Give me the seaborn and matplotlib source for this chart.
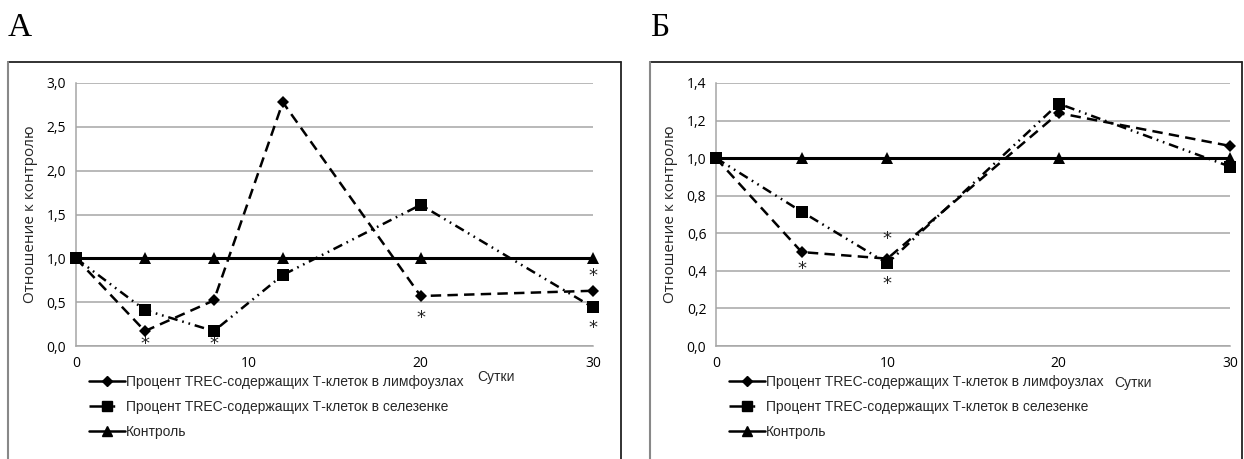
import numpy as np
import pandas as pd
import matplotlib
matplotlib.use("Agg")
import matplotlib.pyplot as plt
import seaborn as sns
from matplotlib.lines import Line2D

# ---------------- data ----------------
days_a = [0, 4, 8, 12, 20, 30]
lymph_a = [1.0, 0.17, 0.52, 2.78, 0.57, 0.63]
spleen_a = [1.0, 0.41, 0.17, 0.81, 1.61, 0.44]
control_a = [1.0, 1.0, 1.0, 1.0, 1.0, 1.0]
stars_a_x = [4, 8, 20, 30, 30]
stars_a_y = [0.02, 0.02, 0.32, 0.80, 0.20]

days_b = [0, 5, 10, 20, 30]
lymph_b = [1.0, 0.50, 0.465, 1.24, 1.065]
spleen_b = [1.0, 0.715, 0.44, 1.29, 0.955]
control_b = [1.0, 1.0, 1.0, 1.0, 1.0]
stars_b_x = [5, 10, 10]
stars_b_y = [0.41, 0.57, 0.33]

labels = ["Процент TREC-содержащих Т-клеток в лимфоузлах",
          "Процент TREC-содержащих Т-клеток в селезенке",
          "Контроль"]
panel_titles = ["А", "Б"]
ylabel = "Отношение к контролю"
xlabel = "Сутки"
xticks = [0, 10, 20, 30]
yticks_a = [0.0, 0.5, 1.0, 1.5, 2.0, 2.5, 3.0]
yticks_b = [0.0, 0.2, 0.4, 0.6, 0.8, 1.0, 1.2, 1.4]

sns.set_theme(style="white")
plt.rcParams['font.family'] = ['Liberation Sans', 'DejaVu Sans']
plt.rcParams['lines.scale_dashes'] = False

W, H = 1244, 459
fig = plt.figure(figsize=(W / 100, H / 100), dpi=100)
fig.patch.set_facecolor("white")


def fx(px):
    return px / W


def fy(py):
    return 1 - py / H


def fmt(v):
    return f"{v:.1f}".replace(".", ",")


DASH = (0, (7.5, 4.5))
DASHDOTDOT = (0, (7, 3.5, 1.2, 3.5, 1.2, 3.5))

panels = [
    dict(frame=(8, 621), ax=(76, 593), days=days_a, lymph=lymph_a, spleen=spleen_a,
         control=control_a, sx=stars_a_x, sy=stars_a_y, yticks=yticks_a, ymax=3.0,
         title_x=8, sutki=(496, 377), leg_x=97),
    dict(frame=(650, 1242), ax=(716, 1230), days=days_b, lymph=lymph_b, spleen=spleen_b,
         control=control_b, sx=stars_b_x, sy=stars_b_y, yticks=yticks_b, ymax=1.4,
         title_x=650, sutki=(1133, 383), leg_x=737),
]

for i, p in enumerate(panels):
    # frame
    l, r = p["frame"]
    fig.add_artist(Line2D([fx(l), fx(r)], [fy(62), fy(62)], color="#222222", lw=1.3))
    fig.add_artist(Line2D([fx(r), fx(r)], [fy(62), fy(462)], color="#222222", lw=1.3))
    fig.add_artist(Line2D([fx(l), fx(l)], [fy(62), fy(462)], color="#888888", lw=1.5))
    fig.text(fx(p["title_x"]), fy(36), panel_titles[i], family="Liberation Serif",
             fontsize=24, ha="left", va="baseline", color="black")

    a0, a1 = p["ax"]
    ax = fig.add_axes([fx(a0), fy(346), fx(a1) - fx(a0), fy(83) - fy(346)])
    ax.set_facecolor("white")

    df = pd.DataFrame({"x": p["days"], "lymph": p["lymph"],
                       "spleen": p["spleen"], "control": p["control"]})
    sns.lineplot(data=df, x="x", y="control", ax=ax, color="black", lw=2.2,
                 marker="^", markersize=8, markeredgewidth=0, errorbar=None,
                 zorder=3, clip_on=False)
    sns.lineplot(data=df, x="x", y="lymph", ax=ax, color="black", lw=1.8,
                 linestyle=DASH, marker="D", markersize=6, markeredgewidth=0,
                 errorbar=None, zorder=4, clip_on=False)
    sns.lineplot(data=df, x="x", y="spleen", ax=ax, color="black", lw=1.8,
                 linestyle=DASHDOTDOT, marker="s", markersize=8.5,
                 markeredgewidth=0, errorbar=None, zorder=5, clip_on=False)
    for sx, sy in zip(p["sx"], p["sy"]):
        ax.text(sx, sy, "*", ha="center", va="center", fontsize=13,
                family="DejaVu Sans", color="#222222", clip_on=False)

    ax.set_xlim(0, 30)
    ax.set_ylim(0, p["ymax"])
    ax.set_xticks(xticks)
    ax.set_xticklabels([str(t) for t in xticks], family="Open Sans", fontsize=10)
    ax.set_yticks(p["yticks"])
    ax.set_yticklabels([fmt(v) for v in p["yticks"]], family="Open Sans", fontsize=10)
    ax.yaxis.grid(True, color="#a6a6a6", lw=1.1)
    ax.xaxis.grid(False)
    ax.set_axisbelow(True)
    for s in ["top", "right"]:
        ax.spines[s].set_visible(False)
    for s in ["left", "bottom"]:
        ax.spines[s].set_color("#a6a6a6")
        ax.spines[s].set_linewidth(1.1)
    ax.tick_params(axis="both", which="both", length=4, width=1.1, color="#a6a6a6",
                   direction="out", pad=3, labelcolor="black")
    ax.set_xlabel("")
    ax.set_ylabel(ylabel, family="Open Sans", fontsize=11, labelpad=6)

    fig.text(fx(p["sutki"][0]), fy(p["sutki"][1]), xlabel, ha="center", va="center",
             fontsize=10)

    handles = [
        Line2D([], [], color="black", lw=1.8, marker="D", markersize=5.5),
        Line2D([], [], color="black", lw=1.8, linestyle=(0, (14, 3, 1.5, 20)),
               marker="s", markersize=7.5),
        Line2D([], [], color="black", lw=1.8, marker="^", markersize=7),
    ]
    fig.legend(handles, labels, loc="upper left",
               bbox_to_anchor=(fx(p["leg_x"]) - 0.01, fy(371)),
               frameon=False, fontsize=10, handlelength=2.6, handletextpad=0.1,
               labelspacing=0.78, borderaxespad=0, borderpad=0.3)

fig.savefig("out.png", dpi=100, facecolor="white")
